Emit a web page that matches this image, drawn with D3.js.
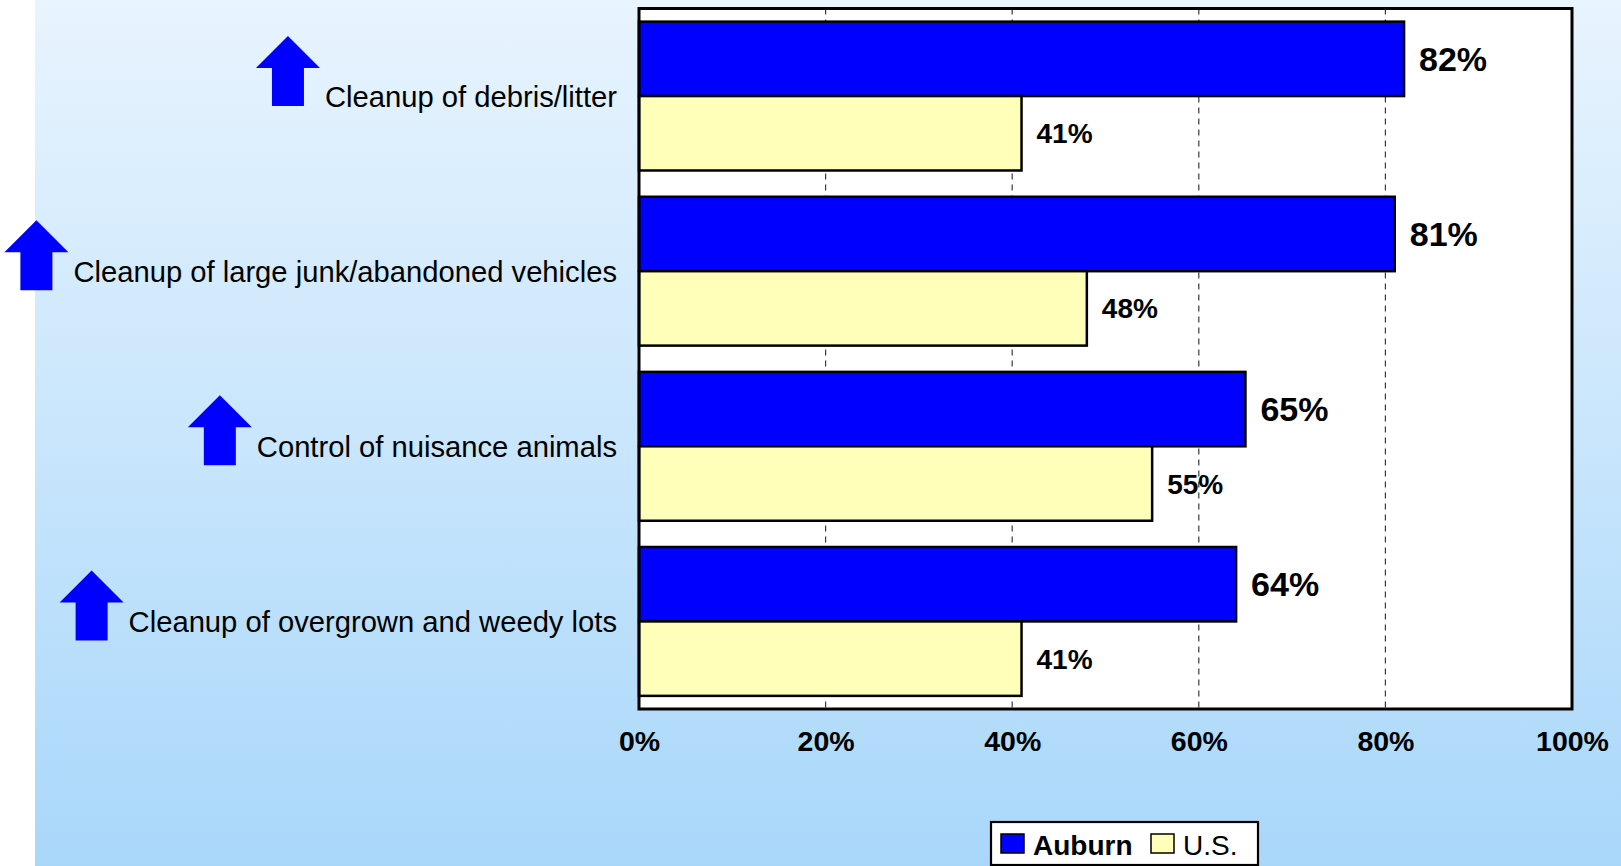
<!DOCTYPE html>
<html>
<head>
<meta charset="utf-8">
<script src="https://cdn.jsdelivr.net/npm/d3@7"></script>
<style>
  html, body { margin: 0; padding: 0; background: #ffffff; }
  svg { display: block; }
  text { font-family: "Liberation Sans", Arial, Helvetica, sans-serif; fill: #000; }
</style>
</head>
<body>
<svg id="chart" width="1621" height="866"></svg>
<script>
// Share of residents rating each neighborhood service as important
const categories = [
  "Cleanup of debris/litter",
  "Cleanup of large junk/abandoned vehicles",
  "Control of nuisance animals",
  "Cleanup of overgrown and weedy lots"
];
const auburnValues = [82, 81, 65, 64];
const usValues = [41, 48, 55, 41];
const seriesNames = ["Auburn", "U.S."];
const xTickValues = [0, 20, 40, 60, 80, 100];

const seriesColors = ["#0000ff", "#ffffb9"];

const W = 1621, H = 866;
const plot = { left: 639, right: 1572, top: 8.5, bottom: 709 };

const svg = d3.select("#chart");

// Page background: white strip on the left, soft blue vertical gradient elsewhere
const defs = svg.append("defs");
const grad = defs.append("linearGradient")
  .attr("id", "bg").attr("x1", 0).attr("y1", 0).attr("x2", 0).attr("y2", 1);
grad.append("stop").attr("offset", "0%").attr("stop-color", "#e8f4fe");
grad.append("stop").attr("offset", "50%").attr("stop-color", "#c9e6fc");
grad.append("stop").attr("offset", "100%").attr("stop-color", "#a9d7fa");

svg.append("rect").attr("x", 0).attr("y", 0).attr("width", W).attr("height", H).attr("fill", "#ffffff");
svg.append("rect").attr("x", 35).attr("y", 0).attr("width", W - 35).attr("height", H).attr("fill", "url(#bg)");

// Scales
const x = d3.scaleLinear().domain([0, 100]).range([plot.left, plot.right]);
const y = d3.scaleBand().domain(categories).range([plot.top, plot.bottom])
  .paddingInner(0.15).paddingOuter(0.075);
const ySub = d3.scaleBand().domain(seriesNames).range([0, y.bandwidth()]);

const rows = categories.map((c, i) => ({
  category: c,
  values: [
    { series: seriesNames[0], value: auburnValues[i] },
    { series: seriesNames[1], value: usValues[i] }
  ]
}));

// Plot area
svg.append("rect")
  .attr("x", plot.left).attr("y", plot.top)
  .attr("width", plot.right - plot.left).attr("height", plot.bottom - plot.top)
  .attr("fill", "#ffffff");

// Dashed vertical gridlines
svg.append("g").selectAll("line")
  .data(xTickValues.filter(v => v > 0 && v < 100))
  .join("line")
  .attr("x1", d => x(d)).attr("x2", d => x(d))
  .attr("y1", plot.top).attr("y2", plot.bottom)
  .attr("stroke", "#3a3a3a").attr("stroke-width", 1.2)
  .attr("stroke-dasharray", "6,5");

// Bars
const groups = svg.append("g").selectAll("g")
  .data(rows)
  .join("g")
  .attr("transform", d => `translate(0,${y(d.category)})`);

groups.selectAll("rect")
  .data(d => d.values)
  .join("rect")
  .attr("x", x(0))
  .attr("y", d => ySub(d.series))
  .attr("width", d => x(d.value) - x(0))
  .attr("height", ySub.bandwidth())
  .attr("fill", (d, i) => seriesColors[i])
  .attr("stroke", "#000").attr("stroke-width", 2.5);

// Value labels
groups.selectAll("text.val")
  .data(d => d.values)
  .join("text")
  .attr("class", "val")
  .attr("x", d => x(d.value) + 15)
  .attr("y", d => ySub(d.series) + ySub.bandwidth() / 2)
  .attr("dy", "0.36em")
  .style("font-weight", "bold")
  .style("font-size", (d, i) => i === 0 ? "34px" : "28px")
  .text(d => d.value + "%");

// Plot border
svg.append("rect")
  .attr("x", plot.left).attr("y", plot.top)
  .attr("width", plot.right - plot.left).attr("height", plot.bottom - plot.top)
  .attr("fill", "none").attr("stroke", "#000").attr("stroke-width", 3);

// X axis tick labels
const xAxis = d3.axisBottom(x)
  .tickValues(xTickValues)
  .tickFormat(d => d + "%")
  .tickSize(0)
  .tickPadding(0);
const xg = svg.append("g").attr("transform", `translate(0,${plot.bottom})`).call(xAxis);
xg.select(".domain").remove();
xg.selectAll("text")
  .attr("y", 42).attr("dy", null)
  .style("font-family", "'Liberation Sans', Arial, sans-serif")
  .style("font-size", "28.5px").style("font-weight", "bold").attr("fill", "#000");

// Category labels with an up-arrow marker in front of each
const labelRight = 617;
const catG = svg.append("g").selectAll("g")
  .data(categories)
  .join("g")
  .attr("transform", d => `translate(0,${y(d) + y.bandwidth() / 2})`);

catG.append("text")
  .attr("x", labelRight)
  .attr("dy", "0.36em")
  .attr("text-anchor", "end")
  .style("font-size", "29.2px")
  .text(d => d);

const arrowW = 64, arrowH = 70, headH = 32, shaftW = 32;
catG.each(function (d, i) {
  const g = d3.select(this);
  const len = g.select("text").node().getComputedTextLength();
  const right = labelRight - len - 5;
  const cx = right - arrowW / 2;
  const bottom = i === 0 ? 10 : 19;
  const top = bottom - arrowH;
  const pts = [
    [cx, top],
    [cx + arrowW / 2, top + headH],
    [cx + shaftW / 2, top + headH],
    [cx + shaftW / 2, bottom],
    [cx - shaftW / 2, bottom],
    [cx - shaftW / 2, top + headH],
    [cx - arrowW / 2, top + headH]
  ];
  g.append("polygon")
    .attr("points", pts.map(p => p.join(",")).join(" "))
    .attr("fill", "#0000ff");
});

// Legend
const legend = svg.append("g").attr("transform", "translate(991,822)");
legend.append("rect")
  .attr("x", 0).attr("y", 0).attr("width", 267).attr("height", 43)
  .attr("fill", "#ffffff").attr("stroke", "#000").attr("stroke-width", 2.2);

const legendItems = [
  { name: seriesNames[0], color: seriesColors[0], x: 10, weight: "bold" },
  { name: seriesNames[1], color: seriesColors[1], x: 160, weight: "normal" }
];
const li = legend.selectAll("g.item").data(legendItems).join("g")
  .attr("class", "item")
  .attr("transform", d => `translate(${d.x},0)`);
li.append("rect")
  .attr("x", 0).attr("y", 12).attr("width", 23).attr("height", 19)
  .attr("fill", d => d.color).attr("stroke", "#000").attr("stroke-width", 1.5);
li.append("text")
  .attr("x", 32).attr("y", 33)
  .style("font-size", "28px")
  .style("font-weight", d => d.weight)
  .text(d => d.name);
</script>
</body>
</html>
